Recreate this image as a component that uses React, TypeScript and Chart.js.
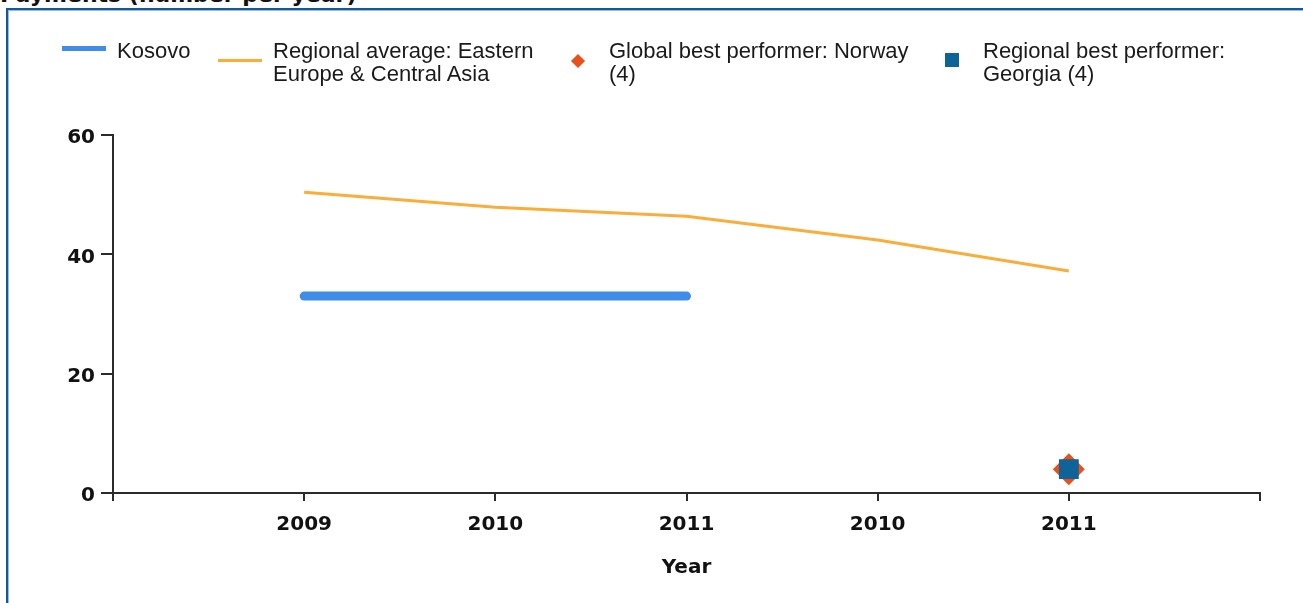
import React, { useEffect, useRef } from "react";
import { Chart, registerables } from "chart.js";

Chart.register(...registerables);

// ---- data ----
const categories: string[] = ["", "2009", "2010", "2011", "2010", "2011", ""];
const kosovo: (number | null)[] = [null, 33, 33, 33, null, null, null];
const regionalAverage: (number | null)[] = [null, 50.4, 47.9, 46.4, 42.4, 37.2, null];
const globalBest: (number | null)[] = [null, null, null, null, null, 4, null];
const regionalBest: (number | null)[] = [null, null, null, null, null, 4, null];
const yTicks: number[] = [0, 20, 40, 60];

const titleText = "Payments (number per year)";
const xTitle = "Year";
const legendKosovo = ["Kosovo"];
const legendRegional = ["Regional average: Eastern", "Europe & Central Asia"];
const legendGlobal = ["Global best performer: Norway", "(4)"];
const legendRegionalBest = ["Regional best performer:", "Georgia (4)"];

const BLUE = "#418BEB";
const ORANGE = "#FBAD3A";
const RED = "#E8501C";
const TEAL = "#0E6399";
const AXIS = "#2b2b2b";
const TICKFONT = { family: "'DejaVu Sans', Verdana, sans-serif", weight: "bold" as const, size: 20 };

const legendText: React.CSSProperties = {
  position: "absolute",
  top: 39,
  fontFamily: "'Liberation Sans', Arial, sans-serif",
  fontSize: 22,
  lineHeight: "23px",
  color: "#1a1a1a",
  whiteSpace: "nowrap",
};

export default function App() {
  const ref = useRef<HTMLCanvasElement | null>(null);

  useEffect(() => {
    if (!ref.current) return;
    const chart = new Chart(ref.current, {
      type: "line",
      data: {
        labels: categories,
        datasets: [
          {
            label: "Regional best performer: Georgia (4)",
            data: regionalBest,
            showLine: false,
            pointStyle: "rect",
            pointRadius: 14,
            pointBackgroundColor: TEAL,
            pointBorderWidth: 0,
            borderColor: TEAL,
            order: 0,
          },
          {
            label: "Global best performer: Norway (4)",
            data: globalBest,
            showLine: false,
            pointStyle: "rectRot",
            pointRadius: 16,
            pointBackgroundColor: RED,
            pointBorderWidth: 0,
            borderColor: RED,
            order: 1,
          },
          {
            label: "Kosovo",
            data: kosovo,
            borderColor: BLUE,
            borderWidth: 9,
            borderCapStyle: "round",
            pointRadius: 0,
            order: 2,
          },
          {
            label: "Regional average: Eastern Europe & Central Asia",
            data: regionalAverage,
            borderColor: ORANGE,
            borderWidth: 3,
            pointRadius: 0,
            order: 3,
          },
        ],
      },
      options: {
        animation: false,
        responsive: false,
        devicePixelRatio: 1,
        layout: { padding: { left: 0, top: 135, right: 43, bottom: 0 } },
        plugins: { legend: { display: false }, tooltip: { enabled: false } },
        scales: {
          x: {
            type: "category",
            offset: false,
            grid: { drawOnChartArea: false, drawTicks: true, tickLength: 8, color: AXIS, lineWidth: 2 },
            border: { display: true, color: AXIS, width: 2 },
            ticks: { font: TICKFONT, color: "#111", padding: 12, autoSkip: false, maxRotation: 0 },
            title: { display: true, text: xTitle, font: TICKFONT, color: "#111", padding: { top: 0, bottom: 23 } },
            afterFit: (s: any) => {
              s.height = 110;
            },
          },
          y: {
            min: 0,
            max: 60,
            afterBuildTicks: (s: any) => {
              s.ticks = yTicks.map((v) => ({ value: v }));
            },
            grid: { drawOnChartArea: false, drawTicks: true, tickLength: 12, color: AXIS, lineWidth: 2 },
            border: { display: true, color: AXIS, width: 2 },
            ticks: { font: TICKFONT, color: "#111", padding: 6, labelOffset: 3 },
            afterFit: (s: any) => {
              s.width = 113;
            },
          },
        },
      },
    });
    return () => chart.destroy();
  }, []);

  return (
    <div style={{ position: "absolute", left: 0, top: 0, width: 1303, height: 603, overflow: "hidden", background: "#fff" }}>
      <div
        style={{
          position: "absolute",
          left: 6,
          top: 8,
          width: 1400,
          height: 700,
          borderLeft: "2px solid #15579c",
          borderTop: "2px solid #15579c",
          boxShadow: "inset 1px 1px 0 #9dbbdc",
        }}
      />
      <div
        style={{
          position: "absolute",
          left: 0,
          top: -16,
          fontFamily: "'DejaVu Sans', Verdana, sans-serif",
          fontWeight: "bold",
          fontSize: 22,
          lineHeight: "22px",
          color: "#111",
          whiteSpace: "nowrap",
        }}
      >
        {titleText}
      </div>
      <canvas ref={ref} width={1303} height={603} style={{ position: "absolute", left: 0, top: 0, width: 1303, height: 603 }} />
      {/* legend */}
      <div style={{ position: "absolute", left: 62, top: 46, width: 44, height: 5, background: BLUE }} />
      <div style={{ ...legendText, left: 117 }}>{legendKosovo.map((t, i) => <div key={i}>{t}</div>)}</div>
      <div style={{ position: "absolute", left: 218, top: 59, width: 44, height: 3, background: ORANGE }} />
      <div style={{ ...legendText, left: 273 }}>{legendRegional.map((t, i) => <div key={i}>{t}</div>)}</div>
      <div
        style={{ position: "absolute", left: 573, top: 56, width: 10, height: 10, background: RED, transform: "rotate(45deg)" }}
      />
      <div style={{ ...legendText, left: 609 }}>{legendGlobal.map((t, i) => <div key={i}>{t}</div>)}</div>
      <div style={{ position: "absolute", left: 945, top: 53, width: 14, height: 14, background: TEAL }} />
      <div style={{ ...legendText, left: 983 }}>{legendRegionalBest.map((t, i) => <div key={i}>{t}</div>)}</div>
    </div>
  );
}
